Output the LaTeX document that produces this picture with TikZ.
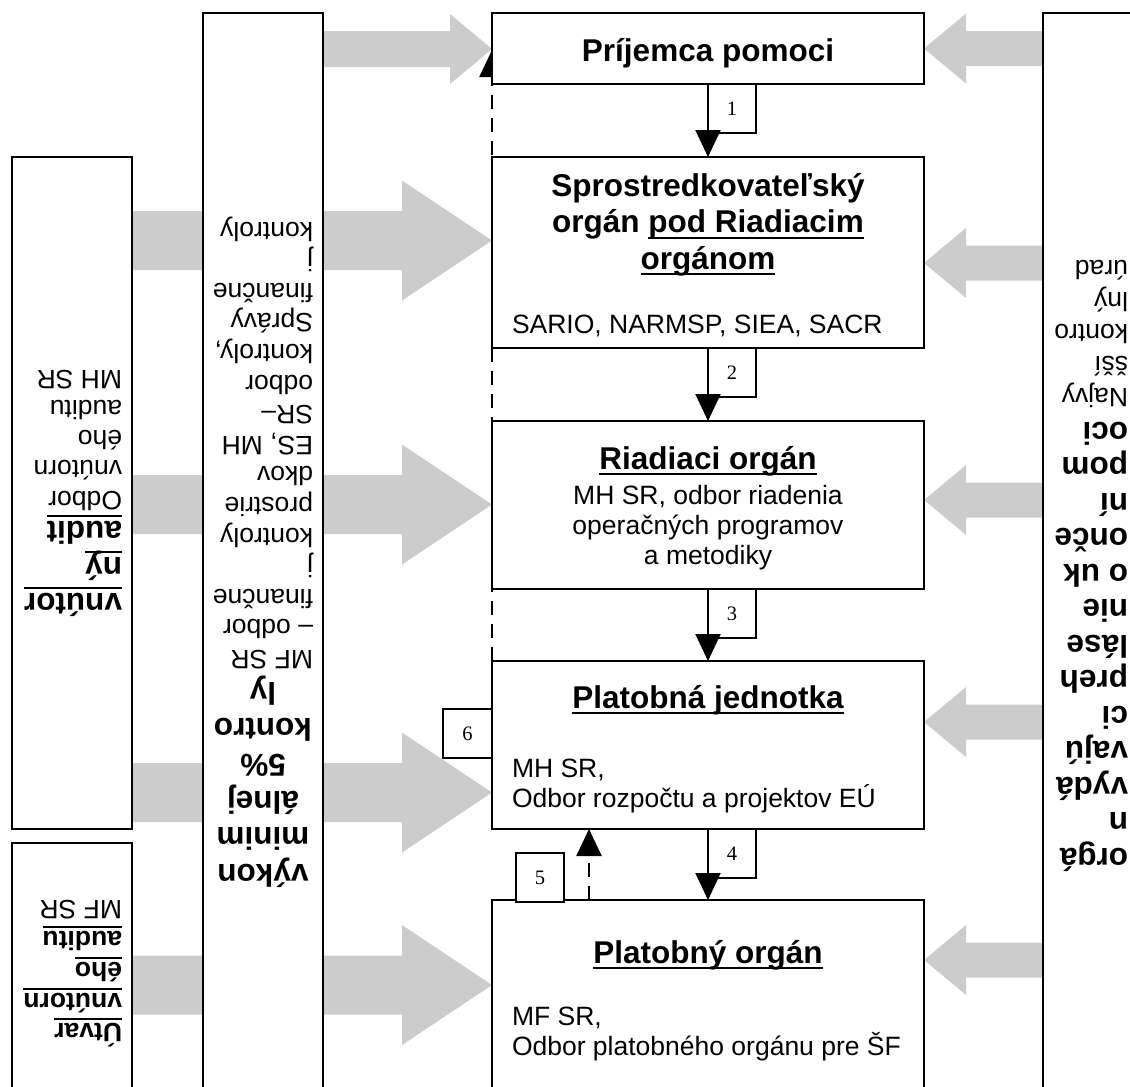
\documentclass[tikz,border=0pt]{standalone}
\usepackage{fontspec}
\setmainfont{Liberation Sans}
\newfontfamily\numfont{Liberation Serif}
\usetikzlibrary{arrows.meta}
\definecolor{greyA}{RGB}{204,204,204}
\newcommand\fbig{\fontsize{31.5}{36}\selectfont\bfseries}
\newcommand\freg{\fontsize{26.5}{31}\selectfont}
\newcommand\fmidb{\fontsize{26.5}{31}\selectfont\bfseries}
\newcommand\fnum{\fontsize{20.5}{24}\selectfont\numfont}
\newcommand\myul[1]{\setbox0\hbox{#1}\rlap{\rule[-0.2em]{\wd0}{0.07em}}\box0}
\begin{document}
\begin{tikzpicture}[x=1pt,y=-1pt,
  box/.style={draw=black, line width=2pt, fill=white, inner sep=0pt, outer sep=0pt, anchor=north west},
  lab/.style={draw=black, line width=2pt, fill=white, inner sep=0pt, outer sep=0pt, anchor=north west, minimum width=48pt, minimum height=49pt, font=\fnum},
  txt/.style={inner sep=0pt, outer sep=0pt},
  rtxt/.style={inner sep=0pt, outer sep=0pt, rotate=180},
  garrow/.style={fill=greyA, draw=none},
  blk/.style={line width=2pt, -{Triangle[width=25pt,length=27pt]}},
  dsh/.style={line width=2.5pt, dash pattern=on 14pt off 9pt, -{Triangle[width=25pt,length=27pt]}},
]
\useasboundingbox (0,0) rectangle (1130,1087);
\clip (0,0) rectangle (1130,1087);

% grey block arrows, left (large)
\foreach \c/\xs in {240.5/132, 504.5/132, 792.5/132, 985/132}
  \fill[garrow] (\xs,{\c-29.5}) -- (402,{\c-29.5}) -- (402,{\c-60}) -- (492,\c)
     -- (402,{\c+60}) -- (402,{\c+29.5}) -- (\xs,{\c+29.5}) -- cycle;
% grey block arrow, top left (small)
\fill[garrow] (323,31) -- (450,31) -- (450,14) -- (492,49) -- (450,84) -- (450,67) -- (323,67) -- cycle;
% grey block arrows, right (small)
\foreach \c in {48.5, 263, 500, 722, 960}
  \fill[garrow] (1043,{\c-17.5}) -- (966,{\c-17.5}) -- (966,{\c-35}) -- (924,\c)
     -- (966,{\c+35}) -- (966,{\c+17.5}) -- (1043,{\c+17.5}) -- cycle;

% side boxes
\node[box, minimum width=120pt, minimum height=672pt] (B1) at (12,157) {};
\node[box, minimum width=120pt, minimum height=1090pt] (B2) at (203,12.5) {};
\node[box, minimum width=120pt, minimum height=260pt] (B3) at (12,843) {};
\node[box, minimum width=120pt, minimum height=1090pt] (BR) at (1043,12.5) {};

% dashed return line (6) along the left edge of the main boxes
\coordinate (a6) at (492,50);
\coordinate (J0) at (492,661);
\draw[dsh] (J0) -- (a6);

% main boxes
\node[box, minimum width=432pt, minimum height=71pt] (P) at (492,13) {};
\node[box, minimum width=432pt, minimum height=191pt] (S) at (492,157) {};
\node[box, minimum width=432pt, minimum height=168pt] (R) at (492,421) {};
\node[box, minimum width=432pt, minimum height=168pt] (J) at (492,661) {};
\node[box, minimum width=432pt, minimum height=210pt] (O) at (492,900) {};

% label boxes
\node[lab] (L1) at (708,84) {1};
\node[lab] (L2) at (708,348) {2};
\node[lab] (L3) at (708,589) {3};
\node[lab] (L4) at (708,829) {4};
\node[lab] (L5) at (516,853) {5};
\node[lab, minimum width=49pt] (L6) at (443,709) {6};

% black arrows
\draw[blk] (L1.north west) -- (L1.north west |- S.north);
\draw[blk] (L2.north west) -- (L2.north west |- R.north);
\draw[blk] (L3.north west) -- (L3.north west |- J.north);
\draw[blk] (L4.north west) -- (L4.north west |- O.north);
\coordinate (a5) at (589,900);
\draw[dsh] (a5) -- (a5 |- J.south);

% main box texts
\node[txt, anchor=base, font=\fbig] (tP) at (708,61) {Príjemca pomoci};
\node[txt, anchor=base, font=\fbig] (tS1) at (708,196) {Sprostredkovateľský};
\node[txt, anchor=base, font=\fbig] (tS2) at (708,232.5) {orgán \myul{pod Riadiacim}};
\node[txt, anchor=base, font=\fbig] (tS3) at (708,269) {\myul{orgánom}};
\node[txt, anchor=base west, font=\freg] (tS4) at (512,333) {SARIO, NARMSP, SIEA, SACR};
\node[txt, anchor=base, font=\fbig] (tR1) at (708,469) {\myul{Riadiaci orgán}};
\node[txt, anchor=base, font=\freg] (tR2) at (708,504) {MH SR, odbor riadenia};
\node[txt, anchor=base, font=\freg] (tR3) at (708,534) {operačných programov};
\node[txt, anchor=base, font=\freg] (tR4) at (708,564) {a metodiky};
\node[txt, anchor=base, font=\fbig] (tJ1) at (708,708) {\myul{Platobná jednotka}};
\node[txt, anchor=base west, font=\freg] (tJ2) at (512,777) {MH SR,};
\node[txt, anchor=base west, font=\freg] (tJ3) at (512,807) {Odbor rozpočtu a projektov EÚ};
\node[txt, anchor=base, font=\fbig] (tO1) at (708,963) {\myul{Platobný orgán}};
\node[txt, anchor=base west, font=\freg] (tO2) at (512,1025) {MF SR,};
\node[txt, anchor=base west, font=\freg] (tO3) at (512,1055) {Odbor platobného orgánu pre ŠF};

% box 1 text (upside down)
\foreach \yy/\ww [count=\i] in {601/vnútor, 565/ný, 529/audit}
  \node[rtxt, anchor=base west, font=\fbig, name=b1a\i] at (122,{\yy-8}) {\myul{\ww}};
\foreach \yy/\ww [count=\i] in {498/Odbor, 467/vnútorn, 437/ého, 407/auditu, 377/{MH SR}}
  \node[rtxt, anchor=base west, font=\freg, name=b1b\i] at (122,{\yy-7}) {\ww};

% box 2 text (upside down)
\foreach \yy/\ww [count=\i] in {872/výkon, 835.6/minim, 799.2/álnej, 762.8/{5\%}, 726.4/kontro, 690/ly}
  \node[rtxt, anchor=base, font=\fbig, name=b2a\i] at (263,{\yy-8}) {\ww};
\foreach \yy/\ww [count=\i] in {657/{MF SR}, 626/{– odbor}, 596/finančne, 565/j, 535/kontroly, 504/prostrie, 473/dkov, 443/{ES, MH}, 412/{SR–}, 382/odbor, 351/{kontroly,}, 320/Správy, 290/finančne, 259/j, 229/kontroly}
  \node[rtxt, anchor=base west, font=\freg, name=b2b\i] at (313,{\yy-7}) {\ww};

% box 3 text (upside down)
\foreach \yy/\ww [count=\i] in {1030/Útvar, 1000/vnútorn, 969/ého, 938/auditu}
  \node[rtxt, anchor=base west, font=\fmidb, name=b3a\i] at (122,{\yy-7}) {\myul{\ww}};
\node[rtxt, anchor=base west, font=\freg] (b3b1) at (122,900) {MF SR};

% right box text (upside down)
\foreach \yy/\ww [count=\i] in {856/orgá, 820.5/n, 785/vydá, 749.5/vajú, 714/ci, 678.5/preh, 643/láse, 607.5/nie, 572/{o uk}, 536.5/onče, 501/ní, 465.5/pom, 430/oci}
  \node[rtxt, anchor=base west, font=\fbig, name=bra\i] at (1128,{\yy-8}) {\ww};
\foreach \yy/\ww [count=\i] in {395/Najvy, 363/šší, 331/kontro, 299/lný, 267/úrad}
  \node[rtxt, anchor=base west, font=\freg, name=brb\i] at (1128,{\yy-7}) {\ww};
\end{tikzpicture}
\end{document}
